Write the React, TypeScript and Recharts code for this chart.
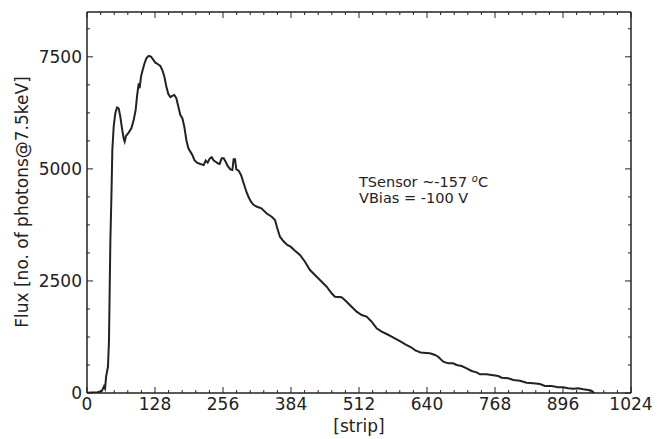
import React from 'react';
import { LineChart, Line, XAxis, YAxis } from 'recharts';

const strips = [
  0, 10, 20, 28, 32, 34, 36, 39.5, 41.4, 42.7, 44, 45.8, 47.7, 50.2, 53.3, 56.5, 59.6, 62.7, 65.9, 69, 70.9, 73.4, 78.4,
  83.5, 87.9, 91.6, 94.1, 97.3, 99.1, 101.7, 104.8, 107.9, 111.7, 116, 120.5, 124.2, 128.6, 133, 138, 141.8, 145.6,
  149.3, 153.1, 156.9, 160.6, 164.4, 168.2, 171.9, 175.7, 179.5, 183.2, 187, 190.8, 194.5, 198.3, 202, 207, 213.4,
  219.6, 223.4, 227.2, 230.9, 234.7, 238.5, 242.2, 246, 249.7, 253.5, 257.3, 261, 264.8, 269.8, 273.6, 276, 278.6,
  281.1, 285.5, 289.9, 294.9, 300, 304.3, 308.7, 313.8, 320, 328.3, 337.7, 347.6, 353.9, 358.2, 363.2, 369.5, 377,
  383.3, 391.5, 400.9, 410.3, 419.7, 429.1, 438.5, 451.1, 460.5, 466.7, 479.3, 488.7, 498.1, 507.6, 517, 526.4, 535.8,
  545.2, 554.6, 564, 573.4, 582.9, 590, 600, 610, 618, 628, 638, 645.5, 655, 661, 670.6, 680, 689.4, 695.7, 705.2,
  714.6, 724, 733.4, 739.6, 752.2, 761.6, 774.2, 780.4, 793, 802.4, 815, 827.5, 840, 852.6, 862, 874.6, 887, 896.4,
  905.8, 915.3, 924.7, 934, 943.5, 949.8, 954, 956,
];

const flux = [
  5, 10, 15, 45, 150, 100, 365, 590, 1180, 2300, 3410, 4300, 5420, 5940, 6240, 6370, 6350, 6165, 5905, 5680, 5610, 5735,
  5810, 5905, 6090, 6315, 6610, 6910, 6800, 7060, 7205, 7340, 7467, 7520, 7505, 7445, 7370, 7340, 7295, 7205, 7060,
  6835, 6670, 6600, 6630, 6650, 6575, 6390, 6200, 6130, 5940, 5645, 5460, 5385, 5310, 5200, 5140, 5110, 5085, 5185,
  5140, 5230, 5260, 5185, 5160, 5125, 5110, 5235, 5235, 5160, 5065, 4990, 4975, 5215, 5215, 4990, 4960, 4865, 4680,
  4490, 4365, 4268, 4194, 4155, 4120, 4009, 3933, 3860, 3674, 3487, 3391, 3302, 3264, 3175, 3079, 2929, 2744, 2633,
  2521, 2372, 2224, 2149, 2135, 2037, 1925, 1814, 1740, 1703, 1591, 1443, 1368, 1316, 1257, 1198, 1150, 1080, 1020,
  950, 905, 895, 886, 848, 810, 699, 662, 662, 625, 602, 550, 491, 460, 417, 417, 402, 379, 342, 327, 290, 275, 230,
  216, 200, 156, 156, 126, 126, 104, 96, 104, 82, 67, 52, 7, 0,
];

const xMajorTicks = [0, 128, 256, 384, 512, 640, 768, 896, 1024];
const xAllTicks = [
  0, 25.6, 51.2, 76.8, 102.4, 128, 153.6, 179.2, 204.8, 230.4, 256, 281.6, 307.2, 332.8, 358.4, 384, 409.6, 435.2,
  460.8, 486.4, 512, 537.6, 563.2, 588.8, 614.4, 640, 665.6, 691.2, 716.8, 742.4, 768, 793.6, 819.2, 844.8, 870.4, 896,
  921.6, 947.2, 972.8, 998.4, 1024,
];
const yMajorTicks = [0, 2500, 5000, 7500];
const yAllTicks = [0, 625, 1250, 1875, 2500, 3125, 3750, 4375, 5000, 5625, 6250, 6875, 7500, 8125];

const data = strips.map((s, i) => ({ strip: s, flux: flux[i] }));

const INK = '#222';
const FONT = '"DejaVu Sans", sans-serif';
const MAJOR_LEN = 6;
const MINOR_LEN = 3;

const BottomTick = (props: any) => {
  const { x, y, payload } = props;
  const major = xMajorTicks.includes(payload.value);
  const len = major ? MAJOR_LEN : MINOR_LEN;
  return (
    <g>
      <line x1={x} x2={x} y1={y} y2={y - len} stroke={INK} strokeWidth={1} />
      {major && (
        <text x={x} y={y + 5} dy="0.71em" textAnchor="middle" fontSize={17} fill={INK} fontFamily={FONT}>
          {payload.value}
        </text>
      )}
    </g>
  );
};

const TopTick = (props: any) => {
  const { x, y, payload } = props;
  const len = xMajorTicks.includes(payload.value) ? MAJOR_LEN : MINOR_LEN;
  return <line x1={x} x2={x} y1={y} y2={y + len} stroke={INK} strokeWidth={1} />;
};

const LeftTick = (props: any) => {
  const { x, y, payload } = props;
  const major = yMajorTicks.includes(payload.value);
  const len = major ? MAJOR_LEN : MINOR_LEN;
  return (
    <g>
      <line x1={x} x2={x + len} y1={y} y2={y} stroke={INK} strokeWidth={1} />
      {major && (
        <text x={x - 5} y={y} dy="0.355em" textAnchor="end" fontSize={17} fill={INK} fontFamily={FONT}>
          {payload.value}
        </text>
      )}
    </g>
  );
};

const RightTick = (props: any) => {
  const { x, y, payload } = props;
  const len = yMajorTicks.includes(payload.value) ? MAJOR_LEN : MINOR_LEN;
  return <line x1={x} x2={x - len} y1={y} y2={y} stroke={INK} strokeWidth={1} />;
};

export default function App() {
  return (
    <div style={{ position: 'absolute', left: 0, top: 0, width: 657, height: 439, background: '#fff' }}>
      <LineChart width={657} height={439} data={data} margin={{ top: 12, right: 26, bottom: 16, left: 30 }}>
        <XAxis
          xAxisId="main"
          type="number"
          dataKey="strip"
          domain={[0, 1024]}
          allowDataOverflow
          ticks={xAllTicks}
          interval={0}
          tickLine={false}
          tickSize={0}
          tickMargin={0}
          height={30}
          axisLine={{ stroke: INK, strokeWidth: 1.5 }}
          tick={<BottomTick />}
        />
        <XAxis
          xAxisId="top"
          type="number"
          dataKey="strip"
          domain={[0, 1024]}
          allowDataOverflow
          ticks={xAllTicks}
          interval={0}
          mirror
          orientation="top"
          tickLine={false}
          tickSize={0}
          tickMargin={0}
          axisLine={{ stroke: INK, strokeWidth: 1.5 }}
          tick={<TopTick />}
        />
        <YAxis
          yAxisId="main"
          type="number"
          domain={[0, 8500]}
          allowDataOverflow
          ticks={yAllTicks}
          interval={0}
          tickLine={false}
          tickSize={0}
          tickMargin={0}
          width={57}
          axisLine={{ stroke: INK, strokeWidth: 1.5 }}
          tick={<LeftTick />}
        />
        <YAxis
          yAxisId="right"
          type="number"
          domain={[0, 8500]}
          allowDataOverflow
          ticks={yAllTicks}
          interval={0}
          mirror
          orientation="right"
          tickLine={false}
          tickSize={0}
          tickMargin={0}
          axisLine={{ stroke: INK, strokeWidth: 1.5 }}
          tick={<RightTick />}
        />
        <Line
          xAxisId="main"
          yAxisId="main"
          type="linear"
          dataKey="flux"
          stroke={INK}
          strokeWidth={2}
          dot={false}
          activeDot={false}
          isAnimationActive={false}
        />
      </LineChart>
      <svg width={657} height={439} style={{ position: 'absolute', left: 0, top: 0, pointerEvents: 'none' }}>
        <text x={359} y={432} textAnchor="middle" fontSize={17} fill={INK} fontFamily={FONT}>[strip]</text>
        <text x={28} y={202} textAnchor="middle" fontSize={17} fill={INK} fontFamily={FONT} transform="rotate(-90 28 202)">
          Flux [no. of photons@7.5keV]
        </text>
        <text x={359} y={187} fontSize={14.5} fill={INK} fontFamily={FONT}>
          TSensor ~-157 <tspan fontStyle="italic" fontSize={10} dy={-5}>o</tspan><tspan dy={5}>C</tspan>
        </text>
        <text x={359} y={203} fontSize={14.5} fill={INK} fontFamily={FONT}>VBias = -100 V</text>
      </svg>
    </div>
  );
}
